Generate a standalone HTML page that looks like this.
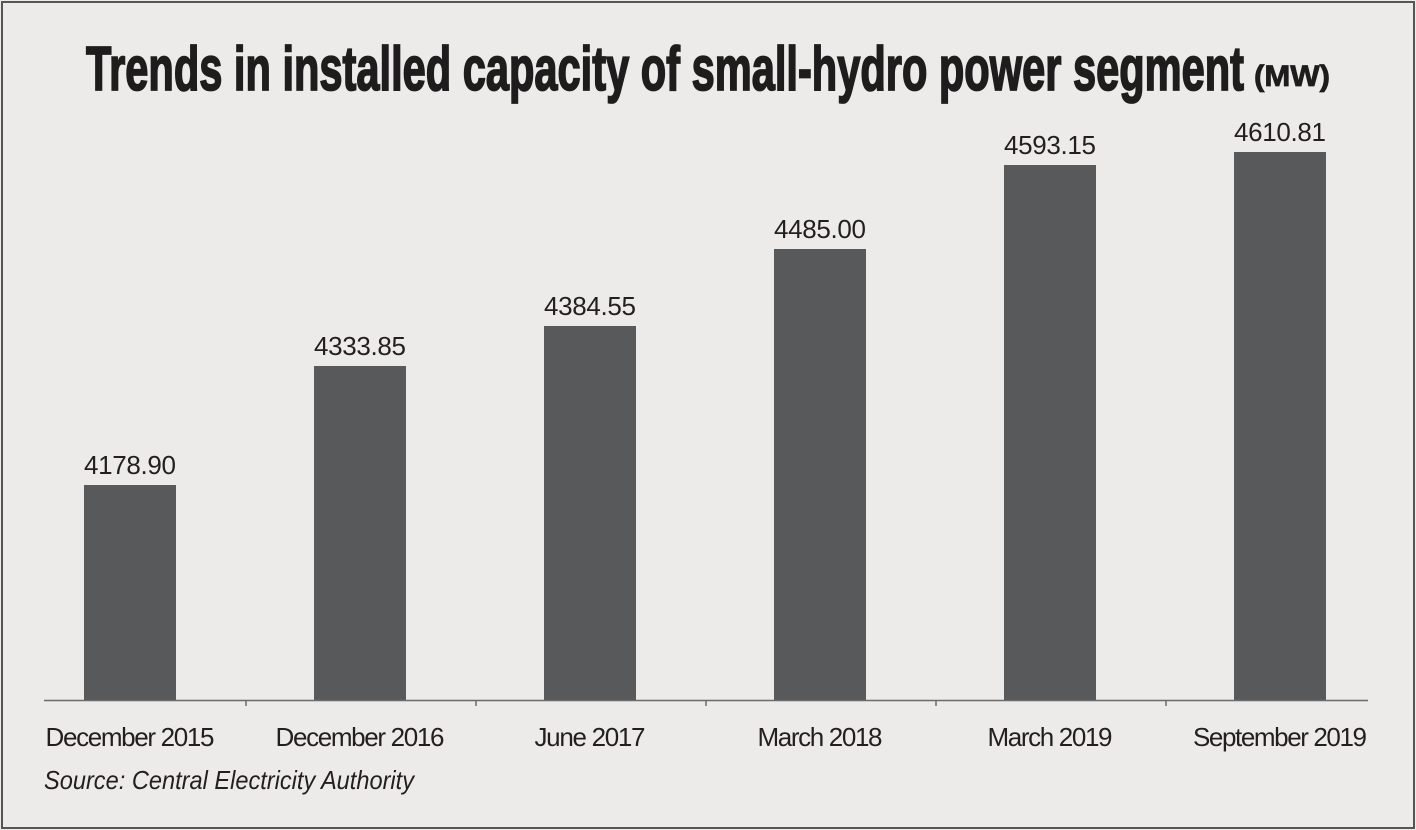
<!DOCTYPE html>
<html><head><style>
html,body{margin:0;padding:0;background:#ecebe9;}
svg{display:block;}
</style></head><body>
<svg width="1416" height="830" xmlns="http://www.w3.org/2000/svg">
<rect x="0" y="0" width="1416" height="830" fill="#ecebe9"/>
<rect x="2" y="2" width="1412" height="826" fill="none" stroke="#555" stroke-width="2"/>
<text x="86" y="90" font-family="Liberation Sans Narrow, Liberation Sans, sans-serif" font-weight="bold" font-size="62" fill="#1e1c1d" stroke="#1e1c1d" stroke-width="1.8" textLength="1158" lengthAdjust="spacingAndGlyphs">Trends in installed capacity of small-hydro power segment</text>
<text x="1254" y="86" font-family="Liberation Sans Narrow, Liberation Sans, sans-serif" font-weight="bold" font-size="30" fill="#1e1c1d" stroke="#1e1c1d" stroke-width="0.8" textLength="76" lengthAdjust="spacingAndGlyphs">(MW)</text>
<g fill="#58595b">
<rect x="84" y="485" width="92" height="215"/>
<rect x="314" y="366" width="92" height="334"/>
<rect x="544" y="326" width="92" height="374"/>
<rect x="774" y="249" width="92" height="451"/>
<rect x="1004" y="165" width="92" height="535"/>
<rect x="1234" y="152" width="92" height="548"/>
</g>
<line x1="44" y1="700.5" x2="1368" y2="700.5" stroke="#6b6b6b" stroke-width="1.5"/>
<g stroke="#6b6b6b" stroke-width="1.5">
<line x1="246" y1="700" x2="246" y2="706"/><line x1="476" y1="700" x2="476" y2="706"/>
<line x1="706" y1="700" x2="706" y2="706"/><line x1="936" y1="700" x2="936" y2="706"/>
<line x1="1166" y1="700" x2="1166" y2="706"/>
</g>
<g font-family="Liberation Sans Narrow, Liberation Sans, sans-serif" font-size="26" fill="#231f20" text-anchor="middle" lengthAdjust="spacingAndGlyphs">
<text x="130" y="474" textLength="92">4178.90</text>
<text x="360" y="355" textLength="92">4333.85</text>
<text x="590" y="315" textLength="92">4384.55</text>
<text x="820" y="238" textLength="92">4485.00</text>
<text x="1050" y="154" textLength="92">4593.15</text>
<text x="1280" y="141" textLength="92">4610.81</text>
<text x="130" y="746" textLength="169">December 2015</text>
<text x="360" y="746" textLength="169">December 2016</text>
<text x="590" y="746" textLength="111">June 2017</text>
<text x="820" y="746" textLength="125">March 2018</text>
<text x="1050" y="746" textLength="125">March 2019</text>
<text x="1280" y="746" textLength="174">September 2019</text>
</g>
<text x="44" y="789" font-family="Liberation Sans Narrow, Liberation Sans, sans-serif" font-style="italic" font-size="26" fill="#231f20" textLength="370" lengthAdjust="spacingAndGlyphs">Source: Central Electricity Authority</text>
</svg>
</body></html>
